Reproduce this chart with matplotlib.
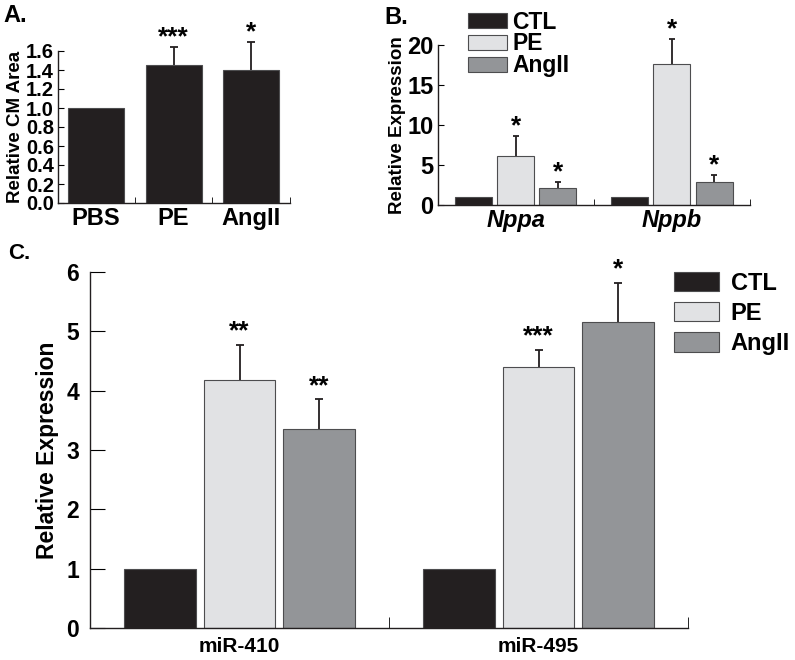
import matplotlib
matplotlib.use("Agg")
import matplotlib.pyplot as plt
import numpy as np
from matplotlib.patches import Patch

plt.rcParams['font.family'] = ['Liberation Sans', 'DejaVu Sans']
plt.rcParams['font.weight'] = 'bold'

# Panel A
a_cats = ["PBS", "PE", "AngII"]
a_vals = [1.0, 1.45, 1.40]
a_err = [0.0, 0.19, 0.29]
a_stars = ["", "***", "*"]

# Panel B
b_genes = ["Nppa", "Nppb"]
b_series = ["CTL", "PE", "AngII"]
b_vals = {"CTL": [1.0, 1.0], "PE": [6.1, 17.6], "AngII": [2.08, 2.83]}
b_err = {"CTL": [0.0, 0.0], "PE": [2.55, 3.1], "AngII": [0.75, 0.9]}
b_stars = {"CTL": ["", ""], "PE": ["*", "*"], "AngII": ["*", "*"]}

# Panel C
c_mirs = ["miR-410", "miR-495"]
c_vals = {"CTL": [1.0, 1.0], "PE": [4.17, 4.39], "AngII": [3.35, 5.15]}
c_err = {"CTL": [0.0, 0.0], "PE": [0.60, 0.30], "AngII": [0.50, 0.66]}
c_stars = {"CTL": ["", ""], "PE": ["**", "***"], "AngII": ["**", "*"]}

colors = {"CTL": "#231f20", "PE": "#e1e2e4", "AngII": "#939598"}
edge = "#4d4d4f"
dark = "#231f20"

W, H = 795, 660
fig = plt.figure(figsize=(W / 100, H / 100), dpi=100)


def ax_at(l, r, b, t):
    return fig.add_axes([l / W, 1 - b / H, (r - l) / W, (b - t) / H])


def style(ax):
    ax.spines['top'].set_visible(False)
    ax.spines['right'].set_visible(False)
    for s in ('left', 'bottom'):
        ax.spines[s].set_linewidth(1.0)
        ax.spines[s].set_color(dark)


def err_up(ax, x, v, e, cap):
    if e > 0:
        ax.vlines(x, v, v + e, color=dark, linewidth=1.3, zorder=1, clip_on=False)
        ax.plot([x], [v + e], marker='_', markersize=cap, mew=1.3, color=dark,
                zorder=1, clip_on=False)


# ---- Panel A ----
axA = ax_at(58, 290, 203, 51)
style(axA)
xA = np.arange(len(a_cats))
axA.bar(xA, a_vals, width=0.72, color=colors["CTL"], edgecolor=edge, linewidth=0.8, zorder=2)
for i in range(len(a_cats)):
    err_up(axA, xA[i], a_vals[i], a_err[i], 6)
    if a_stars[i]:
        axA.text(xA[i], a_vals[i] + a_err[i] - 0.02, a_stars[i], ha='center',
                 va='bottom', fontsize=19, fontweight='bold')
axA.set_xlim(-0.49, 2.5)
axA.set_ylim(0, 1.6)
ytA = np.arange(0, 1.61, 0.2)
axA.set_yticks(ytA)
axA.set_yticklabels([f"{v:.1f}" for v in ytA], fontsize=14.5, fontweight='bold')
axA.set_xticks(xA)
axA.set_xticklabels(a_cats, fontsize=17, fontweight='bold')
axA.tick_params(axis='x', length=0, pad=3)
axA.set_xticks([0.5, 1.5, 2.5], minor=True)
axA.tick_params(axis='x', which='minor', direction='in', length=4)
axA.tick_params(axis='y', direction='in', length=4, pad=3)
axA.set_ylabel("Relative CM Area", fontsize=13.5, fontweight='bold', labelpad=1)
fig.text(3 / W, 1 - 16 / H, "A.", fontsize=17, fontweight='bold', va='center')

# ---- Panel B ----
axB = ax_at(437.7, 750, 205, 45)
style(axB)
xB = np.arange(len(b_genes))
bw, step = 0.237, 0.27
for k, s in enumerate(b_series):
    pos = xB + (k - 1) * step
    axB.bar(pos, b_vals[s], width=bw, color=colors[s], edgecolor=edge, linewidth=0.8, zorder=2)
    for i in range(len(b_genes)):
        err_up(axB, pos[i], b_vals[s][i], b_err[s][i], 5)
        if b_stars[s][i]:
            axB.text(pos[i], b_vals[s][i] + b_err[s][i] - 0.3, b_stars[s][i], ha='center',
                     va='bottom', fontsize=19, fontweight='bold')
axB.set_xlim(-0.5, 1.5)
axB.set_ylim(0, 20)
axB.set_yticks([0, 5, 10, 15, 20])
axB.set_yticklabels(["0", "5", "10", "15", "20"], fontsize=17, fontweight='bold')
axB.set_xticks(xB)
axB.set_xticklabels(b_genes, fontsize=17, fontweight='bold', fontstyle='italic')
axB.tick_params(axis='x', length=0, pad=3)
axB.set_xticks([0.5, 1.5], minor=True)
axB.tick_params(axis='x', which='minor', direction='in', length=4)
axB.tick_params(axis='y', direction='in', length=4, pad=3)
axB.set_ylabel("Relative Expression", fontsize=13.5, fontweight='bold', labelpad=1)
handles = [Patch(facecolor=colors[s], edgecolor=edge, linewidth=0.8) for s in b_series]
legB = axB.legend(handles, b_series, loc='upper left', bbox_to_anchor=(0.096, 1.215),
                  frameon=False, prop={'size': 16.5, 'weight': 'bold'},
                  handlelength=1.7, handleheight=0.65, handletextpad=0.25,
                  labelspacing=-0.05, borderaxespad=0, borderpad=0)
fig.text(384 / W, 1 - 17 / H, "B.", fontsize=17, fontweight='bold', va='center')

# ---- Panel C ----
axC = ax_at(90, 688, 628.3, 271.7)
style(axC)
xC = np.arange(len(c_mirs))
bw, step = 0.24, 0.267
for k, s in enumerate(b_series):
    pos = xC + (k - 1) * step
    axC.bar(pos, c_vals[s], width=bw, color=colors[s], edgecolor=edge, linewidth=0.8, zorder=2)
    for i in range(len(c_mirs)):
        err_up(axC, pos[i], c_vals[s][i], c_err[s][i], 6)
        if c_stars[s][i]:
            axC.text(pos[i], c_vals[s][i] + c_err[s][i] + 0.02, c_stars[s][i], ha='center',
                     va='bottom', fontsize=19, fontweight='bold')
axC.set_xlim(-0.5, 1.5)
axC.set_ylim(0, 6)
axC.set_yticks(range(7))
axC.set_yticklabels([str(v) for v in range(7)], fontsize=16.5, fontweight='bold')
axC.set_xticks(xC)
axC.set_xticklabels(c_mirs, fontsize=15, fontweight='bold')
axC.tick_params(axis='x', length=0, pad=6)
axC.set_xticks([0.5, 1.5], minor=True)
axC.tick_params(axis='x', which='minor', direction='in', length=8)
axC.tick_params(axis='y', direction='in', length=11, pad=8)
axC.set_ylabel("Relative Expression", fontsize=16.5, fontweight='bold', labelpad=5)
handles = [Patch(facecolor=colors[s], edgecolor=edge, linewidth=0.8) for s in b_series]
legC = axC.legend(handles, b_series, loc='upper left', bbox_to_anchor=(0.9766, 1.0),
                  frameon=False, prop={'size': 17, 'weight': 'bold'},
                  handlelength=1.9, handleheight=0.9, handletextpad=0.5,
                  labelspacing=0.3, borderaxespad=0, borderpad=0)
fig.text(8 / W, 1 - 254 / H, "C.", fontsize=16, fontweight='bold', va='center')

fig.savefig("out.png", dpi=100)
